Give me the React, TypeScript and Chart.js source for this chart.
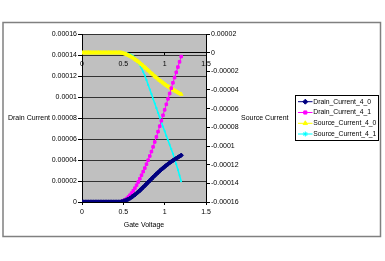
import React, { useEffect, useRef } from "react";
import { Chart, registerables } from "chart.js";
import { drawPoint } from "chart.js/helpers";

Chart.register(...registerables);

const gateVoltage = [
  0, 0.02, 0.04, 0.06, 0.08, 0.1, 0.12, 0.14, 0.16, 0.18,
  0.2, 0.22, 0.24, 0.26, 0.28, 0.3, 0.32, 0.34, 0.36, 0.38,
  0.4, 0.42, 0.44, 0.46, 0.48, 0.5, 0.52, 0.54, 0.56, 0.58,
  0.6, 0.62, 0.64, 0.66, 0.68, 0.7, 0.72, 0.74, 0.76, 0.78,
  0.8, 0.82, 0.84, 0.86, 0.88, 0.9, 0.92, 0.94, 0.96, 0.98,
  1.0, 1.02, 1.04, 1.06, 1.08, 1.1, 1.12, 1.14, 1.16, 1.18, 1.2,
];

const drainCurrent40 = [
  0, 0, 0, 0, 0, 0, 0, 0, 0, 0,
  0, 0, 0, 0, 0, 0, 0, 0, 0, 0,
  0, 0, 0, 0, 0.25e-6, 0.7e-6, 1.25e-6, 1.9e-6, 2.7e-6, 3.6e-6,
  4.6e-6, 5.7e-6, 6.9e-6, 8.2e-6, 9.6e-6, 11.0e-6, 12.5e-6, 14.0e-6, 15.6e-6, 17.2e-6,
  18.8e-6, 20.4e-6, 22.0e-6, 23.6e-6, 25.1e-6, 26.7e-6, 28.1e-6, 29.6e-6, 31.0e-6, 32.3e-6,
  33.6e-6, 34.9e-6, 36.1e-6, 37.3e-6, 38.4e-6, 39.5e-6, 40.6e-6, 41.6e-6, 42.6e-6, 43.6e-6, 44.5e-6,
];

const drainCurrent41 = [
  0, 0, 0, 0, 0, 0, 0, 0, 0, 0,
  0, 0, 0, 0, 0, 0, 0, 0, 0, 0,
  0, 0, 0.1e-6, 0.2e-6, 0.6e-6, 1.2e-6, 2.1e-6, 3.3e-6, 4.8e-6, 6.5e-6,
  8.5e-6, 10.7e-6, 13.2e-6, 16.0e-6, 19.0e-6, 22.2e-6, 25.5e-6, 28.9e-6, 32.3e-6, 36.0e-6,
  39.8e-6, 43.8e-6, 48.0e-6, 52.5e-6, 57.2e-6, 62.0e-6, 67.0e-6, 72.2e-6, 77.4e-6, 82.6e-6,
  87.8e-6, 93.0e-6, 98.2e-6, 103.3e-6, 108.4e-6, 113.5e-6, 118.5e-6, 123.5e-6, 128.5e-6, 133.5e-6, 138.5e-6,
];

const sourceCurrent40 = [
  0, 0, 0, 0, 0, 0, 0, 0, 0, 0,
  0, 0, 0, 0, 0, 0, 0, 0, 0, 0,
  0, 0, 0, 0, -0.25e-6, -0.7e-6, -1.25e-6, -1.9e-6, -2.7e-6, -3.6e-6,
  -4.6e-6, -5.7e-6, -6.9e-6, -8.2e-6, -9.6e-6, -11.0e-6, -12.5e-6, -14.0e-6, -15.6e-6, -17.2e-6,
  -18.8e-6, -20.4e-6, -22.0e-6, -23.6e-6, -25.1e-6, -26.7e-6, -28.1e-6, -29.6e-6, -31.0e-6, -32.3e-6,
  -33.6e-6, -34.9e-6, -36.1e-6, -37.3e-6, -38.4e-6, -39.5e-6, -40.6e-6, -41.6e-6, -42.6e-6, -43.6e-6, -44.5e-6,
];

const sourceCurrent41 = [
  0, 0, 0, 0, 0, 0, 0, 0, 0, 0,
  0, 0, 0, 0, 0, 0, 0, 0, 0, 0,
  0, 0, 0, 0, 0, 0, -0.2e-6, -0.5e-6, -1.0e-6, -1.7e-6,
  -2.6e-6, -3.8e-6, -5.5e-6, -7.8e-6, -10.6e-6, -13.6e-6, -16.9e-6, -20.4e-6, -24.4e-6, -29.2e-6,
  -34.4e-6, -39.4e-6, -44.4e-6, -49.4e-6, -54.4e-6, -59.4e-6, -64.4e-6, -69.4e-6, -74.4e-6, -79.3e-6,
  -84.2e-6, -89.0e-6, -93.8e-6, -98.6e-6, -103.4e-6, -108.2e-6, -113.6e-6, -119.4e-6, -125.4e-6, -131.6e-6, -138.0e-6,
];

const seriesNames = ["Drain_Current_4_0", "Drain_Current_4_1", "Source_Current_4_0", "Source_Current_4_1"];
const xTickValues = [0, 0.5, 1, 1.5];
const xTitle = "Gate Voltage";
const yTitle = "Drain Current";
const y2Title = "Source Current";

const FONT = "'Liberation Sans', Arial, sans-serif";
const tickFont = { family: FONT, size: 7 };

const fmt = (v: any) => String(Number(Number(v).toPrecision(6)));

const excelDecor = {
  id: "excelDecor",
  beforeDraw(chart: any) {
    const { ctx, chartArea } = chart;
    ctx.save();
    ctx.fillStyle = "#ffffff";
    ctx.fillRect(0, 0, chart.width, chart.height);
    ctx.fillStyle = "#c0c0c0";
    ctx.fillRect(chartArea.left, chartArea.top, chartArea.right - chartArea.left, chartArea.bottom - chartArea.top);
    ctx.restore();
  },
  afterDraw(chart: any) {
    const { ctx, chartArea } = chart;
    ctx.save();
    ctx.strokeStyle = "#808080";
    ctx.lineWidth = 1.5;
    ctx.strokeRect(3, 22.5, 377.5, 214);
    ctx.fillStyle = "#000";
    ctx.font = `7px ${FONT}`;
    ctx.textBaseline = "middle";
    ctx.textAlign = "center";
    ctx.fillText(xTitle, (chartArea.left + chartArea.right) / 2, 225);
    ctx.textAlign = "right";
    ctx.fillText(yTitle, 50, 118);
    ctx.textAlign = "left";
    ctx.fillText(y2Title, 241, 118);
    ctx.strokeStyle = "#000";
    ctx.lineWidth = 1;
    ctx.strokeRect(295.5, 95.5, 83, 45);
    const rows = [101.7, 112.5, 123.3, 134];
    ctx.font = `6.8px ${FONT}`;
    chart.data.datasets.forEach((ds: any, i: number) => {
      const y = rows[i];
      ctx.strokeStyle = ds.borderColor;
      ctx.fillStyle = ds.backgroundColor;
      ctx.lineWidth = 1;
      ctx.beginPath();
      ctx.moveTo(298, y);
      ctx.lineTo(312.5, y);
      ctx.stroke();
      drawPoint(ctx, { pointStyle: ds.pointStyle, radius: ds.legendRadius, borderWidth: 1, rotation: 0 }, 305.3, y);
      ctx.fillStyle = "#000";
      ctx.textAlign = "left";
      ctx.fillText(ds.label, 313.3, y);
    });
    ctx.restore();
  },
};

export default function App() {
  const ref = useRef<HTMLCanvasElement | null>(null);
  useEffect(() => {
    document.body.style.margin = "0";
    const pts = (ys: number[]) => gateVoltage.map((x, i) => ({ x, y: ys[i] }));
    const chart = new Chart(ref.current as HTMLCanvasElement, {
      type: "line",
      data: {
        datasets: [
          {
            label: seriesNames[0], data: pts(drainCurrent40), xAxisID: "x", yAxisID: "y",
            borderColor: "#000080", backgroundColor: "#000080", borderWidth: 2,
            pointStyle: "rectRot", pointRadius: 2.2, pointBorderWidth: 1, legendRadius: 2.5,
          } as any,
          {
            label: seriesNames[1], data: pts(drainCurrent41), xAxisID: "x", yAxisID: "y",
            borderColor: "#ff00ff", backgroundColor: "#ff00ff", borderWidth: 1,
            pointStyle: "rect", pointRadius: 1.8, pointBorderWidth: 1, legendRadius: 2.2,
          } as any,
          {
            label: seriesNames[2], data: pts(sourceCurrent40), xAxisID: "x2", yAxisID: "y2",
            borderColor: "#ffff00", backgroundColor: "#ffff00", borderWidth: 3,
            pointStyle: "triangle", pointRadius: 2.2, pointBorderWidth: 1, legendRadius: 2.5,
          } as any,
          {
            label: seriesNames[3], data: pts(sourceCurrent41), xAxisID: "x2", yAxisID: "y2",
            borderColor: "#00ffff", backgroundColor: "#00ffff", borderWidth: 1.5,
            pointStyle: "star", pointRadius: 0.8, pointBorderWidth: 1, legendRadius: 2.5,
          } as any,
        ],
      },
      options: {
        responsive: false,
        animation: false,
        events: [],
        layout: { padding: { left: 0, top: 34, right: 139, bottom: 39 } },
        plugins: { legend: { display: false }, tooltip: { enabled: false }, title: { display: false } },
        elements: { line: { tension: 0 } },
        scales: {
          x: {
            type: "linear", axis: "x", position: "bottom", min: 0, max: 1.5,
            afterBuildTicks: (s: any) => { s.ticks = xTickValues.map((v) => ({ value: v })); },
            ticks: { callback: (v: any) => String(v), font: tickFont, color: "#000", padding: 3, maxRotation: 0, autoSkip: false },
            grid: { drawOnChartArea: false, tickLength: 3, color: "#000" },
            border: { color: "#000" },
            afterFit: (s: any) => { s.height = 20; },
          },
          x2: {
            type: "linear", axis: "x", position: { y2: 0 }, min: 0, max: 1.5,
            afterBuildTicks: (s: any) => { s.ticks = xTickValues.map((v) => ({ value: v })); },
            ticks: { callback: (v: any) => String(v), font: tickFont, color: "#000", padding: 5, maxRotation: 0, autoSkip: false },
            grid: { drawOnChartArea: false, tickLength: 2, color: "#000" },
            border: { color: "#000" },
          },
          y: {
            type: "linear", position: "left", min: 0, max: 0.00016,
            ticks: { stepSize: 0.00002, callback: fmt, font: tickFont, color: "#000", padding: 1 },
            grid: { color: "#333", tickLength: 4, tickColor: "#000" },
            border: { color: "#000" },
            afterFit: (s: any) => { s.width = 82; },
          },
          y2: {
            type: "linear", position: "right", min: -0.00016, max: 0.00002,
            ticks: { stepSize: 0.00002, callback: fmt, font: tickFont, color: "#000", padding: 1 },
            grid: { drawOnChartArea: false, tickLength: 4, color: "#000" },
            border: { color: "#000" },
            afterFit: (s: any) => { s.width = 40; },
          },
        } as any,
      },
      plugins: [excelDecor],
    });
    return () => chart.destroy();
  }, []);
  return (
    <div style={{ position: "fixed", left: 0, top: 0, width: 385, height: 261 }}>
      <canvas ref={ref} width={385} height={261} style={{ display: "block", width: 385, height: 261 }} />
    </div>
  );
}
